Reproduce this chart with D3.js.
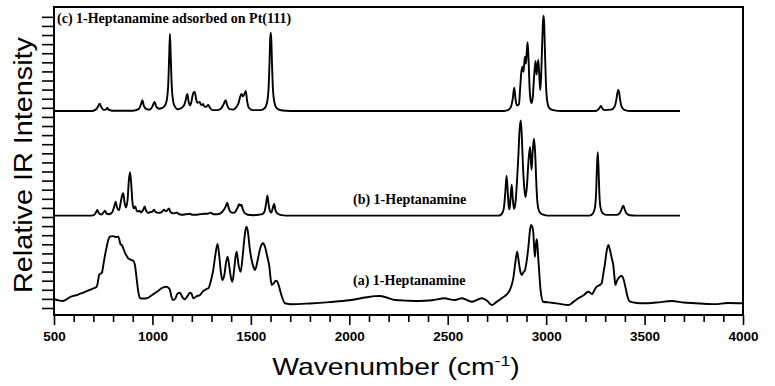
<!DOCTYPE html>
<html>
<head>
<meta charset="utf-8">
<script src="https://cdn.jsdelivr.net/npm/d3@7"></script>
<style>
  html, body { margin: 0; padding: 0; background: #fff; }
  svg { display: block; }
</style>
</head>
<body>
<svg id="chart" width="775" height="386"></svg>
<script>
// IR spectra of 1-heptanamine: [wavenumber (cm-1), relative intensity]
// (a) measured spectrum, absolute scale
const spectrumA = [
  [500,0.96],[520,0.85],[545,0.77],[560,0.9],[580,1.18],[620,1.45],[650,1.7],[682,1.98],[700,2.15],[717,2.34],
  [724,3.0],[729,3.63],[738,3.8],[743,3.88],[752,4.9],[760,5.9],[768,6.74],[776,7.5],[784,7.84],[800,7.9],
  [815,7.8],[827,7.84],[838,7.0],[845,6.9],[852,6.56],[862,6.0],[870,5.7],[877,5.46],[886,5.35],[894,5.27],
  [903,5.2],[911,4.73],[920,3.2],[928,1.8],[937,1.07],[955,1.05],[971,1.07],[1000,1.45],[1030,1.9],[1052,2.25],
  [1072,2.34],[1082,2.2],[1089,1.98],[1096,1.3],[1103,0.88],[1115,1.0],[1128,1.6],[1140,1.68],[1152,1.2],[1165,0.96],
  [1178,1.3],[1191,1.68],[1200,1.5],[1208,1.07],[1225,1.3],[1242,1.43],[1255,1.8],[1267,1.98],[1276,2.1],[1284,2.16],
  [1297,3.0],[1309,4.18],[1320,5.9],[1331,7.03],[1340,5.6],[1348,3.9],[1355,3.08],[1365,3.6],[1374,5.0],[1382,5.64],
  [1392,4.3],[1400,3.2],[1406,2.89],[1415,4.2],[1422,5.6],[1428,6.19],[1437,4.8],[1448,3.99],[1458,5.6],[1466,7.4],
  [1473,8.6],[1479,8.93],[1486,8.2],[1494,6.6],[1504,5.27],[1512,4.6],[1521,4.18],[1535,5.3],[1548,6.6],[1556,7.0],
  [1563,7.11],[1572,6.7],[1584,5.6],[1594,4.54],[1600,3.3],[1606,2.53],[1615,2.7],[1624,2.95],[1631,3.0],[1640,2.6],
  [1648,1.98],[1660,1.1],[1673,0.52],[1690,0.45],[1707,0.41],[1800,0.5],[1900,0.65],[2000,0.85],[2088,1.18],[2130,1.3],
  [2156,1.32],[2190,1.15],[2232,0.88],[2300,0.8],[2351,0.77],[2420,0.85],[2486,1.07],[2510,0.95],[2537,0.88],[2571,1.07],
  [2600,0.85],[2622,0.69],[2650,0.9],[2673,1.07],[2700,0.8],[2723,0.33],[2750,0.7],[2774,1.07],[2800,1.5],[2816,1.98],
  [2826,2.6],[2833,3.26],[2843,4.9],[2853,6.19],[2862,4.9],[2870,3.9],[2876,3.63],[2884,3.9],[2893,4.18],[2902,5.3],
  [2910,6.74],[2917,8.4],[2923,9.12],[2930,8.9],[2935,8.21],[2939,6.7],[2943,5.64],[2948,6.9],[2952,7.55],[2956,6.9],
  [2960,5.46],[2966,3.6],[2972,1.9],[2985,0.69],[3028,0.58],[3070,0.45],[3113,0.33],[3140,0.7],[3164,1.07],[3190,1.4],
  [3214,1.79],[3234,1.54],[3246,2.0],[3257,2.34],[3270,2.5],[3282,2.71],[3290,3.7],[3299,4.91],[3307,6.2],[3316,6.92],
  [3324,6.4],[3333,5.5],[3341,4.73],[3347,3.4],[3352,2.53],[3360,3.0],[3372,3.4],[3383,3.52],[3394,3.1],[3404,2.16],
  [3414,1.2],[3426,0.69],[3460,0.55],[3500,0.52],[3560,0.6],[3638,0.77],[3700,0.6],[3780,0.5],[3858,0.42],[3920,0.55],
  [4000,0.52]
];

// (b) reference spectrum, intensity above its own baseline
const spectrumB = [
  [500,0],[690,0],[705,0.1],[713,0.35],[720,0.63],[727,0.3],[740,0.12],[750,0.3],[759,0.55],[766,0.25],
  [780,0.15],[795,0.35],[806,1.0],[813,1.54],[820,0.9],[830,0.6],[840,1.6],[847,2.3],[852,2.46],[858,1.5],
  [866,0.9],[874,1.8],[880,3.8],[886,4.77],[892,3.6],[898,1.6],[905,0.8],[913,1.0],[920,0.55],[928,0.45],
  [934,0.55],[942,0.35],[952,0.6],[961,1.0],[968,0.5],[980,0.3],[990,0.4],[1000,0.45],[1008,0.65],[1016,0.4],
  [1030,0.3],[1045,0.35],[1053,0.55],[1059,0.65],[1066,0.5],[1074,0.55],[1084,0.8],[1092,0.4],[1105,0.25],[1118,0.3],
  [1126,0.33],[1135,0.15],[1150,0.1],[1170,0.15],[1190,0.2],[1205,0.1],[1220,0.1],[1240,0.15],[1262,0.2],[1280,0.2],
  [1296,0.33],[1310,0.15],[1330,0.15],[1345,0.25],[1360,0.55],[1372,1.0],[1380,1.43],[1388,0.8],[1397,0.4],[1410,0.3],
  [1422,0.45],[1432,0.85],[1440,1.25],[1446,1.1],[1452,1.2],[1459,0.7],[1468,0.3],[1485,0.1],[1510,0.05],[1540,0.1],
  [1560,0.2],[1570,0.5],[1578,1.4],[1584,2.2],[1590,1.3],[1597,0.5],[1604,0.35],[1611,0.8],[1618,1.28],[1625,0.6],
  [1634,0.25],[1650,0.08],[1680,0],[2760,0],[2775,0.2],[2785,0.8],[2792,2.4],[2799,4.4],[2805,2.6],[2810,1.0],
  [2814,0.7],[2819,1.9],[2825,3.4],[2831,1.7],[2837,0.75],[2845,1.6],[2852,3.8],[2859,6.6],[2865,9.4],[2871,10.47],
  [2876,8.9],[2882,5.6],[2889,3.0],[2896,2.05],[2903,3.4],[2910,5.9],[2918,7.55],[2922,6.3],[2926,5.05],[2931,6.8],
  [2938,8.46],[2944,7.0],[2949,4.2],[2954,1.9],[2960,0.8],[2968,0.35],[2985,0.1],[3010,0],[3220,0],[3238,0.25],
  [3248,0.9],[3254,2.6],[3258,5.3],[3262,6.96],[3266,5.3],[3270,2.6],[3276,0.9],[3286,0.3],[3305,0.08],[3360,0.08],
  [3375,0.3],[3385,0.8],[3392,1.1],[3399,0.7],[3408,0.25],[3425,0.05],[3460,0],[3680,0]
];

// (c) adsorbed on Pt(111), intensity above its own baseline
const spectrumC = [
  [500,0],[690,0],[712,0.15],[724,0.5],[732,0.81],[740,0.45],[752,0.12],[762,0.15],[771,0.33],[779,0.12],
  [800,0.02],[900,0.03],[930,0.2],[942,0.75],[949,1.2],[956,0.6],[970,0.2],[985,0.15],[1000,0.5],[1011,1.0],
  [1020,0.45],[1035,0.25],[1050,0.35],[1062,0.55],[1072,1.1],[1080,2.8],[1085,6.0],[1089,8.5],[1093,6.0],[1098,2.8],
  [1106,1.0],[1115,0.45],[1130,0.2],[1145,0.3],[1160,0.6],[1170,1.3],[1177,1.87],[1184,1.0],[1191,0.6],[1197,0.9],
  [1203,1.6],[1208,2.0],[1215,2.1],[1222,1.3],[1228,0.9],[1235,0.95],[1240,1.0],[1246,0.7],[1251,0.65],[1257,0.77],
  [1264,0.5],[1272,0.45],[1280,0.62],[1284,0.66],[1292,0.35],[1305,0.1],[1330,0.1],[1350,0.3],[1362,0.75],[1372,1.2],
  [1380,0.6],[1392,0.2],[1410,0.15],[1425,0.4],[1438,0.9],[1446,1.6],[1453,1.87],[1460,1.6],[1466,1.8],[1474,2.2],
  [1481,1.1],[1490,0.35],[1510,0.1],[1550,0.1],[1570,0.3],[1582,0.9],[1590,2.5],[1595,5.5],[1598,7.8],[1601,8.6],
  [1604,7.8],[1607,5.5],[1612,2.5],[1620,0.9],[1632,0.3],[1660,0.05],[1700,0],[2780,0],[2805,0.1],[2820,0.4],
  [2830,1.3],[2838,2.56],[2845,1.2],[2852,0.6],[2862,0.74],[2868,2.5],[2874,4.3],[2880,4.87],[2885,4.3],[2892,5.97],
  [2897,5.2],[2902,6.6],[2906,7.55],[2911,5.5],[2916,2.5],[2921,1.2],[2926,0.88],[2932,1.5],[2938,3.5],[2946,5.5],
  [2951,4.0],[2955,4.8],[2960,5.6],[2965,4.0],[2970,2.3],[2975,4.0],[2980,7.5],[2984,9.8],[2987,10.47],[2990,9.6],
  [2994,6.5],[2999,3.0],[3006,1.0],[3015,0.35],[3035,0.1],[3080,0],[3250,0],[3265,0.15],[3273,0.4],[3279,0.55],
  [3285,0.3],[3295,0.1],[3330,0.15],[3348,0.5],[3357,1.3],[3362,2.0],[3366,2.3],[3371,2.0],[3376,1.2],[3385,0.4],
  [3400,0.1],[3430,0],[3680,0]
];

const series = [spectrumA, spectrumB, spectrumC];
const seriesOffsets = [0, 10.15, 21.65];
const seriesLabels = ["(a) 1-Heptanamine", "(b) 1-Heptanamine", "(c) 1-Heptanamine adsorbed on Pt(111)"];
const xMajorTicks = [500, 1000, 1500, 2000, 2500, 3000, 3500, 4000];
const xMinorTicks = d3.range(500, 4001, 100);
const yTicks = d3.range(0, 33);

const svg = d3.select("#chart");
const plot = { left: 54, right: 743, top: 7, bottom: 315 };

const x = d3.scaleLinear().domain([500, 4000]).range([plot.left, plot.right]);
const y = d3.scaleLinear().domain([-0.77, 33.08]).range([plot.bottom, plot.top]);

// bottom axis: minor ticks every 100, longer ticks with labels every 500
const xAxis = d3.axisBottom(x)
  .tickValues(xMinorTicks)
  .tickSize(6)
  .tickFormat(d => xMajorTicks.includes(d) ? d : "");
const gx = svg.append("g")
  .attr("transform", `translate(0,${plot.bottom})`)
  .call(xAxis);
gx.select(".domain").remove();
gx.selectAll(".tick line")
  .attr("stroke", "#000")
  .attr("stroke-width", 1.6)
  .attr("y2", d => xMajorTicks.includes(d) ? 10 : 7);
gx.selectAll(".tick text")
  .attr("y", 26)
  .attr("dy", 0)
  .attr("fill", "#000")
  .style("font-family", "'Liberation Sans', Arial, sans-serif")
  .style("font-weight", "bold")
  .style("font-size", "13.5px");

// left axis: unlabelled intensity ticks
const yAxis = d3.axisLeft(y).tickValues(yTicks).tickSize(12).tickFormat("");
const gy = svg.append("g")
  .attr("transform", `translate(${plot.left},0)`)
  .call(yAxis);
gy.select(".domain").remove();
gy.selectAll(".tick line").attr("stroke", "#000").attr("stroke-width", 1.6);

// spectra
const line = d3.line()
  .x(d => x(d[0]))
  .curve(d3.curveMonotoneX);

series.forEach((s, i) => {
  svg.append("path")
    .datum(s)
    .attr("fill", "none")
    .attr("stroke", "#000")
    .attr("stroke-width", 1.9)
    .attr("stroke-linejoin", "round")
    .attr("d", line.y(d => y(d[1] + seriesOffsets[i])));
});

// frame
svg.append("rect")
  .attr("x", plot.left)
  .attr("y", plot.top)
  .attr("width", plot.right - plot.left)
  .attr("height", plot.bottom - plot.top)
  .attr("fill", "none")
  .attr("stroke", "#000")
  .attr("stroke-width", 2);

// spectrum labels
const labelPos = [[353, 285], [353, 204], [57, 23]];
seriesLabels.forEach((t, i) => {
  svg.append("text")
    .attr("x", labelPos[i][0])
    .attr("y", labelPos[i][1])
    .attr("fill", "#000")
    .style("font-family", "'Liberation Serif', 'Times New Roman', serif")
    .style("font-weight", "bold")
    .style("font-size", "14px")
    .text(t);
});

// axis titles
const xt = svg.append("text")
  .attr("transform", "translate(396,375) scale(1.18,1)")
  .attr("text-anchor", "middle")
  .attr("fill", "#000")
  .style("font-family", "'Liberation Sans', Arial, sans-serif")
  .style("font-size", "24px");
xt.append("tspan").text("Wavenumber (cm");
xt.append("tspan").attr("dy", -9).style("font-size", "15px").text("-1");
xt.append("tspan").attr("dy", 9).text(")");

svg.append("text")
  .attr("transform", "translate(32,165) rotate(-90)")
  .attr("text-anchor", "middle")
  .attr("fill", "#000")
  .attr("textLength", 256)
  .attr("lengthAdjust", "spacingAndGlyphs")
  .style("font-family", "'Liberation Sans', Arial, sans-serif")
  .style("font-size", "26px")
  .text("Relative IR Intensity");
</script>
</body>
</html>
